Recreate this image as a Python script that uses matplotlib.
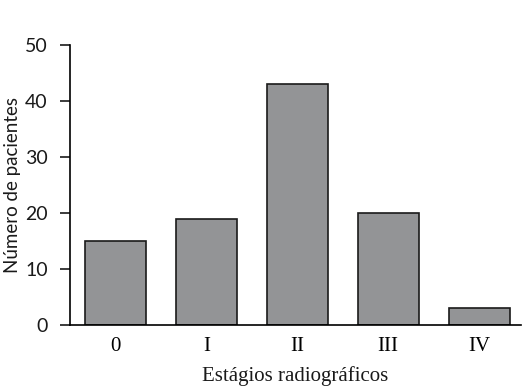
import matplotlib
matplotlib.use('Agg')
import matplotlib.pyplot as plt

stages = ['0', 'I', 'II', 'III', 'IV']
patients = [15, 19, 43, 20, 3]

fig = plt.figure(figsize=(5.25, 3.92), dpi=100)
ax = fig.add_axes([0.1333, 0.171, 0.859, 0.714])

x = range(len(stages))
ax.bar(x, patients, width=0.67, color='#939496', edgecolor='#1a1a1a', linewidth=1.2)

ax.set_xlim(-0.5, 4.46)
ax.set_ylim(0, 50)
ax.set_yticks(range(0, 51, 10))
ax.set_xticks(list(x))
ax.set_xticklabels(stages, family='Liberation Serif', fontsize=15)
for lbl in ax.get_yticklabels():
    lbl.set_family('Lato')
    lbl.set_fontsize(14)
ax.tick_params(axis='x', length=0, pad=9)
ax.tick_params(axis='y', length=7, width=1.2, direction='out', pad=9,
               color='#1a1a1a', labelcolor='#1a1a1a')

ax.spines['top'].set_visible(False)
ax.spines['right'].set_visible(False)
ax.spines['left'].set_linewidth(1.2)
ax.spines['bottom'].set_linewidth(1.2)

ax.set_ylabel('Número de pacientes', family='Lato', fontsize=13.5, labelpad=3, color='#1a1a1a')
ax.set_xlabel('Estágios radiográficos', family='Liberation Serif', fontsize=15, labelpad=7, color='#1a1a1a')

fig.savefig('out.png', dpi=100)
